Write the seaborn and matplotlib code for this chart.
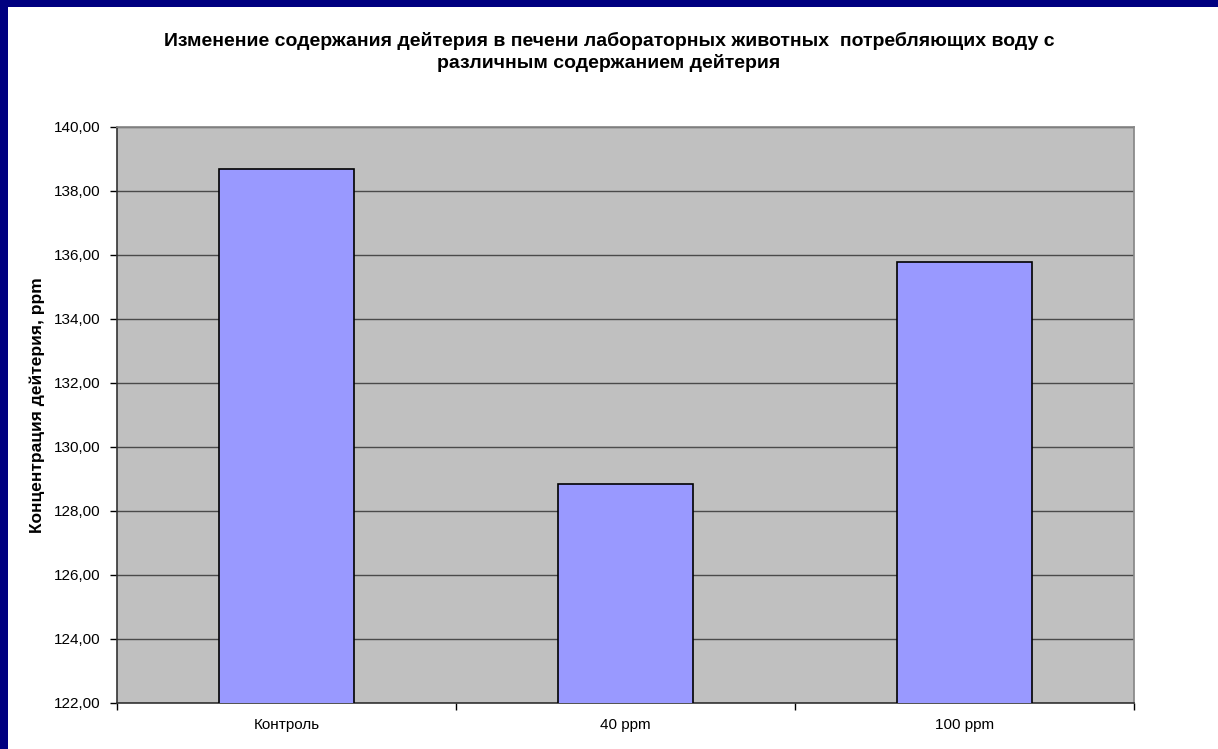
import matplotlib
matplotlib.use("Agg")
import matplotlib.pyplot as plt
import matplotlib.patches as mpatches
from matplotlib.ticker import FixedLocator, FuncFormatter
import seaborn as sns
import pandas as pd

categories = ["Контроль", "40 ppm", "100 ppm"]
deuterium_ppm = [138.69, 128.83, 135.78]
y_ticks = [122, 124, 126, 128, 130, 132, 134, 136, 138, 140]

title = ("Изменение содержания дейтерия в печени лабораторных животных  потребляющих воду с\n"
         "различным содержанием дейтерия")
y_label = "Концентрация дейтерия, ppm"

sns.set_theme(style="white")
plt.rcParams["font.family"] = ["Liberation Sans", "DejaVu Sans"]

df = pd.DataFrame({"group": categories, "value": deuterium_ppm})

fig = plt.figure(figsize=(12.18, 7.49), dpi=100)
fig.patch.set_facecolor("white")
ax = fig.add_axes([117 / 1218, 1 - 703 / 749, (1134 - 117) / 1218, (703 - 127) / 749])
ax.set_facecolor("#C0C0C0")

sns.barplot(data=df, x="group", y="value", color="#9999FF", saturation=1,
            width=0.4, edgecolor="black", linewidth=1.2, ax=ax, zorder=3)

ax.set_ylim(122, 140)
ax.set_xlim(-0.5, 2.5)
ax.yaxis.set_major_locator(FixedLocator(y_ticks))
ax.yaxis.set_major_formatter(FuncFormatter(lambda v, p: f"{v:.2f}".replace(".", ",")))
ax.grid(axis="y", color="#4a4a4a", linewidth=1.0, zorder=1)
ax.set_axisbelow(True)

# category ticks: labels centred, tick marks on the boundaries
ax.xaxis.set_minor_locator(FixedLocator([-0.5, 0.5, 1.5, 2.5]))
ax.tick_params(axis="x", which="major", length=0, pad=11, labelsize=11, labelcolor="black")
ax.tick_params(axis="x", which="minor", length=5, width=1, color="black", direction="out", bottom=True)
ax.tick_params(axis="y", which="major", length=5, width=1, color="black", direction="out",
               left=True, labelsize=11, labelcolor="black", pad=7)

for side in ["left", "bottom"]:
    ax.spines[side].set_color("#333333")
    ax.spines[side].set_linewidth(1.2)
ax.spines["right"].set_color("#888888")
ax.spines["top"].set_color("#888888")

ax.set_xlabel("")
ax.set_ylabel(y_label, fontsize=12.5, fontweight="bold", color="black")
ax.yaxis.set_label_coords((45 - 117) / 1017, (703 - 405) / 576)

fig.text(0.5, 1 - 52 / 749, title, ha="center", va="center", fontsize=14,
         fontweight="bold", color="black", linespacing=1.3)

# navy frame along the left and top edges
fig.patches.append(mpatches.Rectangle((0, 0), 8 / 1218, 1, transform=fig.transFigure,
                                      facecolor="#000080", edgecolor="none", zorder=0))
fig.patches.append(mpatches.Rectangle((0, 1 - 7 / 749), 1, 7 / 749, transform=fig.transFigure,
                                      facecolor="#000080", edgecolor="none", zorder=0))

fig.savefig("out.png", dpi=100, facecolor="white")
